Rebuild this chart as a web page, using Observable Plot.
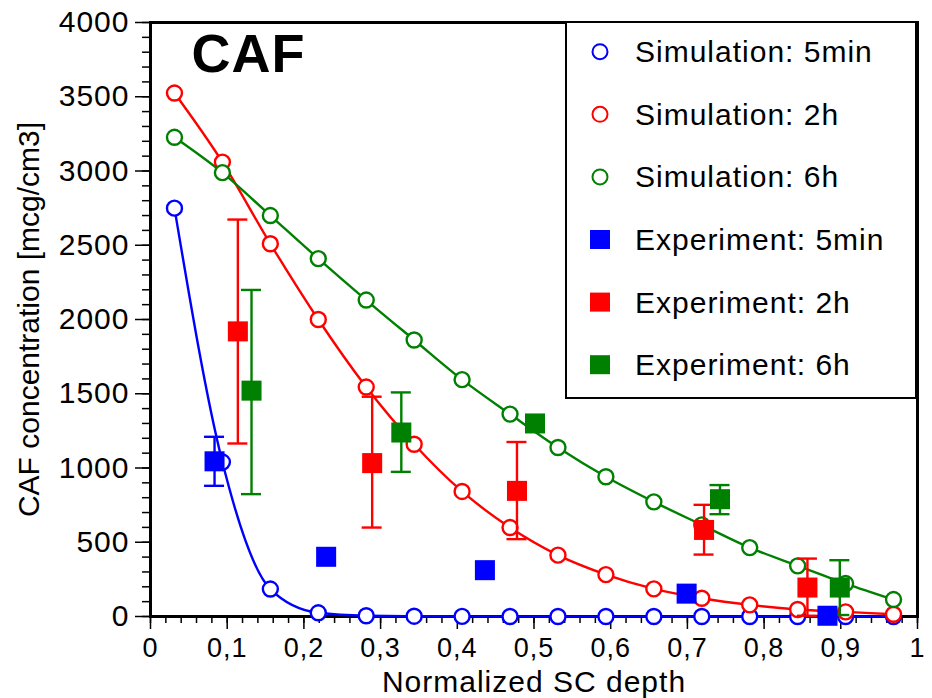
<!DOCTYPE html>
<html>
<head>
<meta charset="utf-8">
<script src="https://cdn.jsdelivr.net/npm/d3@7"></script>
<script src="https://cdn.jsdelivr.net/npm/@observablehq/plot@0.6"></script>
<style>
  body { margin: 0; background: #fff; }
  #wrap { position: relative; width: 932px; height: 698px; font-family: "Liberation Sans", Arial, sans-serif; }
  .caf text { letter-spacing: 1px; }
  #legend { position: absolute; left: 565px; top: 21px; width: 348px; height: 374px;
            border: 2px solid #000; background: #fff; }
  #legend svg { display: block; }
</style>
</head>
<body>
<div id="wrap"></div>
<script>
// Normalized depth of the simulation grid points
const depth = [0.03125, 0.09375, 0.15625, 0.21875, 0.28125, 0.34375, 0.40625, 0.46875,
               0.53125, 0.59375, 0.65625, 0.71875, 0.78125, 0.84375, 0.90625, 0.96875];

// Simulated CAF concentration [mcg/cm3]
const sim5min = [2750, 1040, 185, 25, 5, 2, 1, 0, 0, 0, 0, 0, 0, 0, 0, 0];
const sim2h   = [3525, 3060, 2510, 2000, 1545, 1160, 842, 599, 413, 282, 186, 123, 78, 47, 31, 15];
const sim6h   = [3227, 2989, 2700, 2410, 2131, 1862, 1595, 1363, 1138, 941, 772, 617, 464, 341, 222, 114];

// Experimental data: depth, mean, lower / upper error bounds (null = no bar)
const exp5minX  = [0.0835, 0.229, 0.436, 0.699, 0.8826];
const exp5minY  = [1045, 402, 312, 154, 5];
const exp5minLo = [880, null, null, null, null];
const exp5minHi = [1210, null, null, null, null];

const exp2hX  = [0.1139, 0.289, 0.4778, 0.7217, 0.8565];
const exp2hY  = [1920, 1033, 846, 583, 195];
const exp2hLo = [1165, 599, 521, 417, 5];
const exp2hHi = [2673, 1480, 1175, 752, 390];

const exp6hX  = [0.1317, 0.327, 0.5013, 0.7425, 0.8987];
const exp6hY  = [1521, 1239, 1300, 790, 195];
const exp6hLo = [824, 974, null, 689, 10];
const exp6hHi = [2199, 1509, null, 885, 379];

// Series names and colours
const seriesNames = ["5min", "2h", "6h"];
const seriesColors = ["#0000ff", "#ff0000", "#008000"];

// Axis ticks and labels
const xTicks = [0, 0.1, 0.2, 0.3, 0.4, 0.5, 0.6, 0.7, 0.8, 0.9, 1];
const xTickLabels = ["0", "0,1", "0,2", "0,3", "0,4", "0,5", "0,6", "0,7", "0,8", "0,9", "1"];
const yTicks = [0, 500, 1000, 1500, 2000, 2500, 3000, 3500, 4000];
const yTickLabels = ["0", "500", "1000", "1500", "2000", "2500", "3000", "3500", "4000"];

const title = "CAF";
const xLabel = "Normalized SC depth";
const yLabel = "CAF concentration [mcg/cm3]";

// Build tidy tables
const simTable = [
  ["5min", sim5min], ["2h", sim2h], ["6h", sim6h]
].flatMap(([s, vals]) => vals.map((v, i) => ({series: s, x: depth[i], y: v})));

const expTable = [
  ["5min", exp5minX, exp5minY, exp5minLo, exp5minHi],
  ["2h", exp2hX, exp2hY, exp2hLo, exp2hHi],
  ["6h", exp6hX, exp6hY, exp6hLo, exp6hHi]
].flatMap(([s, X, Y, L, H]) => X.map((x, i) => ({series: s, x, y: Y[i], lo: L[i], hi: H[i]})));
const barTable = expTable.filter(d => d.lo != null && d.hi != null);

const minorX = d3.range(0, 1.0001, 0.02);
const minorY = d3.range(0, 4001, 100);
const nearestLabel = (ticks, labels) => d => labels[d3.minIndex(ticks, t => Math.abs(t - d))];

const chart = Plot.plot({
  width: 932,
  height: 698,
  marginLeft: 150,
  marginRight: 15,
  marginTop: 22,
  marginBottom: 82,
  className: "caf",
  style: {fontFamily: "'Liberation Sans', Arial, sans-serif", background: "white", color: "black", overflow: "visible"},
  x: {domain: [0, 1]},
  y: {domain: [0, 4000]},
  color: {domain: seriesNames, range: seriesColors},
  marks: [
    Plot.frame({stroke: "black", strokeWidth: 3}),
    Plot.axisX({ticks: minorX, tickSize: 7, tickFormat: () => "", label: null, strokeWidth: 1.5}),
    Plot.axisX({ticks: xTicks, tickSize: 13, tickPadding: 8, tickFormat: nearestLabel(xTicks, xTickLabels),
                fontSize: 27, label: null, strokeWidth: 1.5}),
    Plot.axisY({ticks: minorY, tickSize: 8, tickFormat: () => "", label: null, strokeWidth: 1.5}),
    Plot.axisY({ticks: yTicks, tickSize: 15, tickPadding: 6, tickFormat: nearestLabel(yTicks, yTickLabels),
                fontSize: 30, label: null, strokeWidth: 1.5}),
    Plot.text([title], {frameAnchor: "top-left", dx: 41, dy: 11, text: d => d, fontSize: 54,
                        fontWeight: "bold", textAnchor: "start", lineAnchor: "top"}),
    Plot.text([xLabel], {frameAnchor: "bottom", dy: 66, text: d => d, fontSize: 30,
                         textAnchor: "middle", lineAnchor: "middle"}),
    Plot.text([yLabel], {frameAnchor: "left", dx: -121, rotate: -90, text: d => d, fontSize: 30,
                         textAnchor: "middle", lineAnchor: "middle"}),
    // simulation curves
    Plot.line(simTable, {x: "x", y: "y", z: "series", stroke: "series", strokeWidth: 2.4, curve: "monotone-x"}),
    Plot.dot(simTable, {x: "x", y: "y", stroke: "series", fill: "white", r: 7.5, strokeWidth: 2.4}),
    // experimental error bars with caps
    Plot.ruleX(barTable, {x: "x", y1: "lo", y2: "hi", stroke: "series", strokeWidth: 2.4}),
    Plot.ruleY(barTable, {y: "hi", x1: "x", x2: "x", insetLeft: -10, insetRight: -10, stroke: "series", strokeWidth: 2.4}),
    Plot.ruleY(barTable, {y: "lo", x1: "x", x2: "x", insetLeft: -10, insetRight: -10, stroke: "series", strokeWidth: 2.4}),
    // experimental means
    Plot.dot(expTable, {x: "x", y: "y", fill: "series", symbol: "square", r: 11.3})
  ]
});

// the rotated axis title keeps normal spacing
d3.select(chart).selectAll("text").filter(function() { return this.textContent === yLabel; })
  .style("letter-spacing", "0px");

const wrap = document.getElementById("wrap");
wrap.appendChild(chart);

// Legend box
const legendItems = [
  {label: "Simulation: 5min", color: seriesColors[0], kind: "circle"},
  {label: "Simulation: 2h",   color: seriesColors[1], kind: "circle"},
  {label: "Simulation: 6h",   color: seriesColors[2], kind: "circle"},
  {label: "Experiment: 5min", color: seriesColors[0], kind: "square"},
  {label: "Experiment: 2h",   color: seriesColors[1], kind: "square"},
  {label: "Experiment: 6h",   color: seriesColors[2], kind: "square"}
];
const legend = d3.select(wrap).append("div").attr("id", "legend");
const lsvg = legend.append("svg").attr("width", 348).attr("height", 374);
const row = lsvg.selectAll("g").data(legendItems).join("g")
  .attr("transform", (d, i) => `translate(0,${28.7 + 62.6 * i})`);
row.filter(d => d.kind === "circle").append("circle")
  .attr("cx", 33).attr("cy", 0).attr("r", 7.5)
  .attr("fill", "white").attr("stroke", d => d.color).attr("stroke-width", 2);
row.filter(d => d.kind === "square").append("rect")
  .attr("x", 23).attr("y", -9.5).attr("width", 20).attr("height", 19)
  .attr("fill", d => d.color);
row.append("text")
  .attr("x", 68).attr("y", 0).attr("dy", "0.35em")
  .attr("font-size", 30).attr("letter-spacing", "1px")
  .attr("font-family", "'Liberation Sans', Arial, sans-serif")
  .text(d => d.label);
</script>
</body>
</html>
